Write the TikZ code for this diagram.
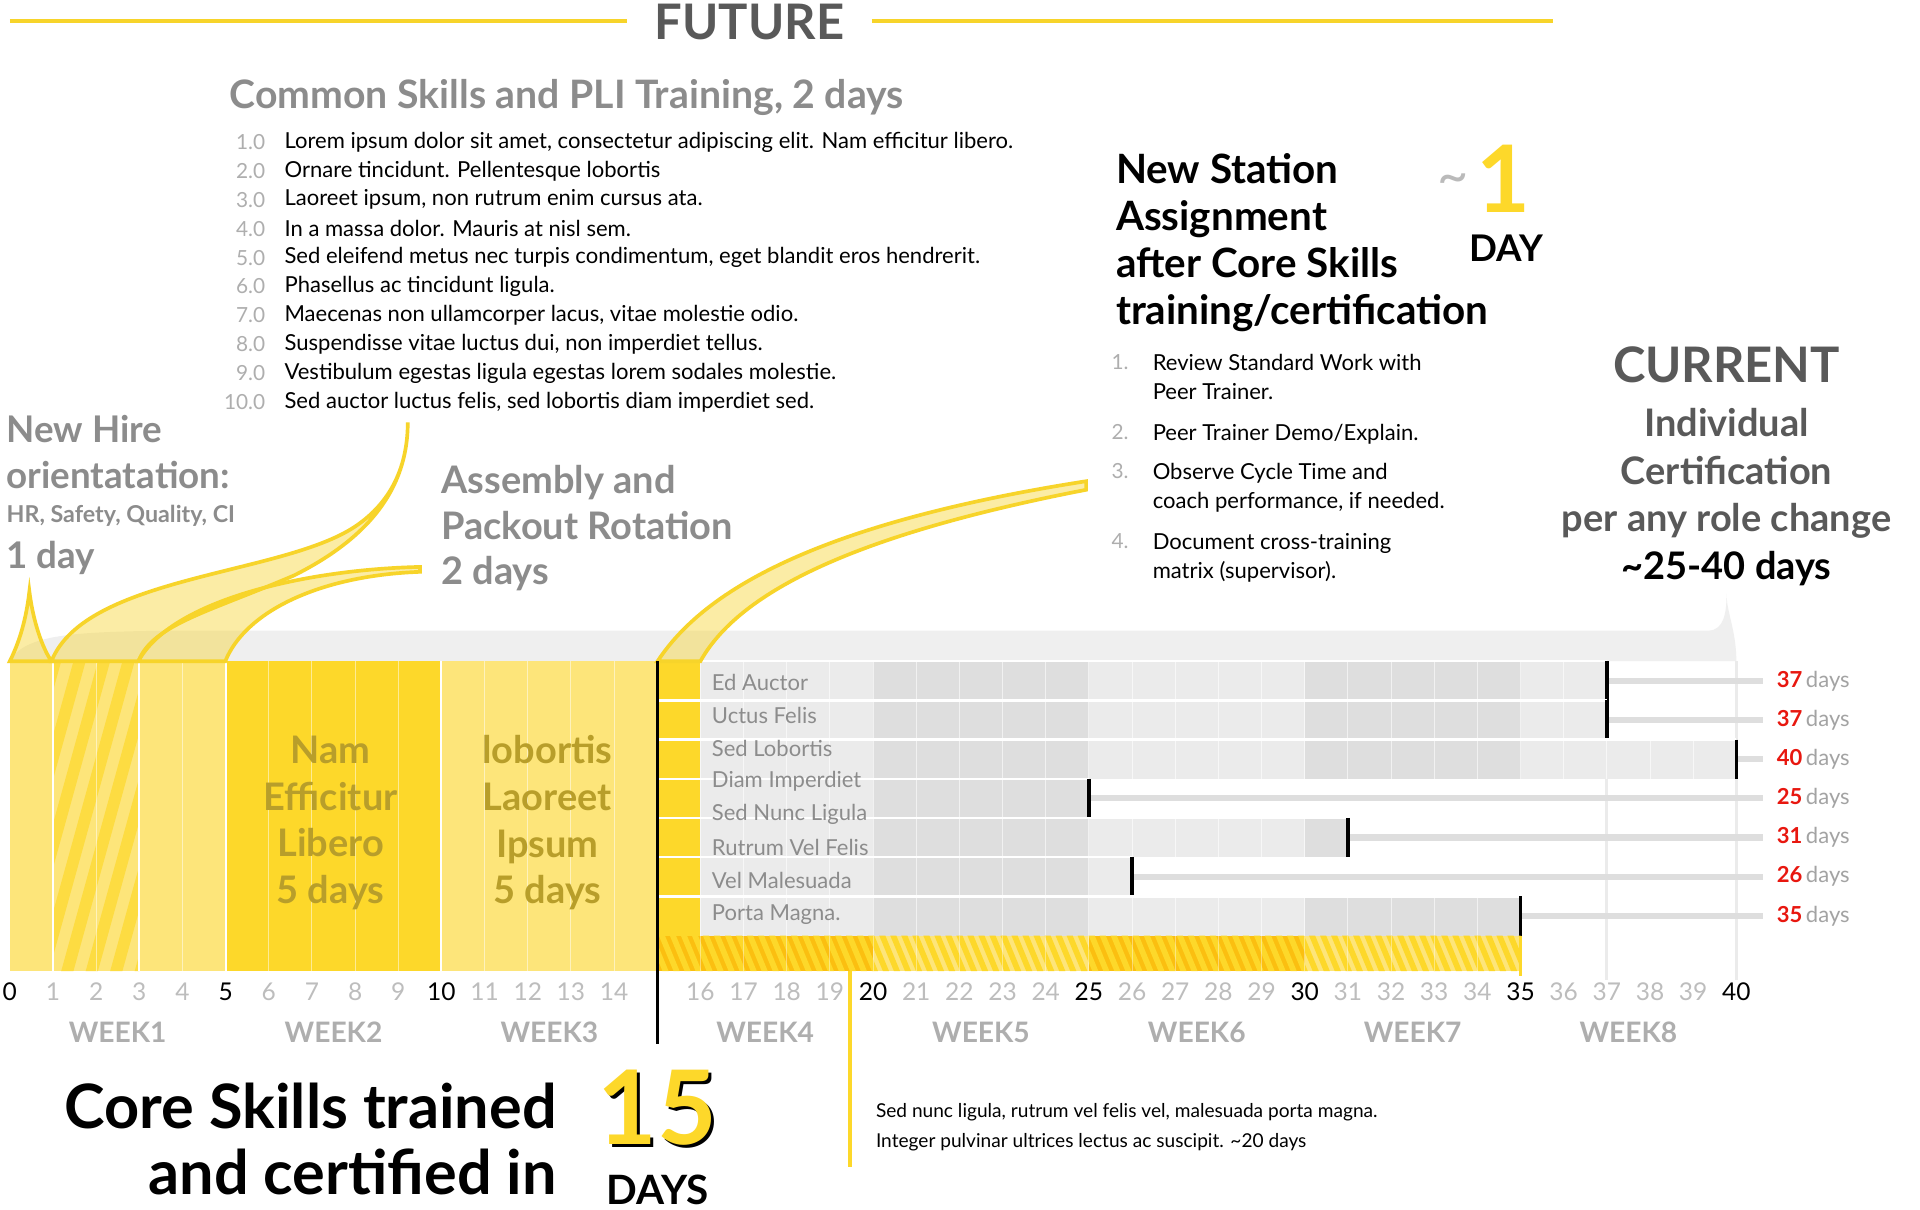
\documentclass[tikz,border=0pt]{standalone}
\usepackage{fontspec}
\setmainfont{Lato}
\definecolor{ly}{HTML}{FDE57A}
\definecolor{gy}{HTML}{FDD82A}
\definecolor{oy}{HTML}{FBBF10}
\definecolor{yl}{HTML}{F7D42A}
\definecolor{tg}{HTML}{8C8C8C}
\definecolor{dg}{HTML}{595959}
\definecolor{lg}{HTML}{EBEBEB}
\definecolor{mg}{HTML}{DEDEDE}
\definecolor{rd}{HTML}{E8170F}
\definecolor{ol}{HTML}{B89E2A}
\begin{document}
\begin{tikzpicture}[x=0.5pt,y=-0.5pt,
  head/.style={font=\bfseries\fontsize{15}{18}\selectfont,text=tg,inner sep=0,anchor=west},
  li/.style={font=\fontsize{8.5}{10}\selectfont,inner sep=0,anchor=west},
  ln/.style={font=\fontsize{8.5}{10}\selectfont,text=tg!70,inner sep=0,anchor=east},
  ax/.style={font=\fontsize{10}{12}\selectfont,inner sep=0},
  wk/.style={font=\bfseries\fontsize{11.5}{13}\selectfont,text=tg!70,inner sep=0},
  rib/.style={fill=yl,fill opacity=.42,draw=yl,line width=1.5pt},
  rl/.style={font=\fontsize{8.5}{10}\selectfont,text=tg,inner sep=0,anchor=west},
  big/.style={font=\bfseries\fontsize{15.5}{19}\selectfont,text=ol,align=center,inner sep=0}]
\useasboundingbox (0,0) rectangle (1568,988);
\fill[white] (0,0) rectangle (1568,988);
% top
\node[font=\bfseries\fontsize{20}{22}\selectfont,text=dg,inner sep=0] (fut) at (612,18) {FUTURE};
\coordinate (fl) at (512,17); \coordinate (fr) at (712,17);
\draw[yl,line width=1.5pt] (8,17) -- (fl) (fr) -- (1268,17);
\node[head,font=\bfseries\fontsize{16}{18}\selectfont] (cs) at (187,80) {Common Skills and PLI Training, 2 days};
\foreach \n/\t [count=\i from 0] in {1.0/Lorem ipsum dolor sit amet{,} consectetur adipiscing elit. Nam efficitur libero.,
 2.0/Ornare tincidunt. Pellentesque lobortis,
 3.0/Laoreet ipsum{,} non rutrum enim cursus ata.,
 4.0/In a massa dolor. Mauris at nisl sem.,
 5.0/Sed eleifend metus nec turpis condimentum{,} eget blandit eros hendrerit.,
 6.0/Phasellus ac tincidunt ligula.,
 7.0/Maecenas non ullamcorper lacus{,} vitae molestie odio.,
 8.0/Suspendisse vitae luctus dui{,} non imperdiet tellus.,
 9.0/Vestibulum egestas ligula egestas lorem sodales molestie.,
 10.0/Sed auctor luctus felis{,} sed lobortis diam imperdiet sed.}
 {\node[ln] (n\i) at (217,116+23.6*\i) {\n}; \node[li,font=\fontsize{9}{10}\selectfont] (t\i) at (232,116+23.6*\i) {\t};}
% new station
\node[font=\bfseries\fontsize{16.5}{19.2}\selectfont,align=left,anchor=north west,inner sep=0] (ns) at (911,125) {New Station\\Assignment\\after Core Skills\\training/certification};
\node[font=\fontsize{22}{22}\selectfont,text=tg!60,inner sep=0] (tl) at (1187,150) {\char126};
\node[font=\bfseries\fontsize{38}{38}\selectfont,text=gy,inner sep=0] (one) at (1228,146) {1};
\node[font=\bfseries\fontsize{15}{16}\selectfont,inner sep=0] (day) at (1230,203) {DAY};
\foreach \n/\y/\t in {1./301/Review Standard Work with\\Peer Trainer.,2./358/{Peer Trainer Demo/Explain.},3./390/Observe Cycle Time and\\coach performance{,} if needed.,4./447/Document cross-training\\matrix (supervisor).}
 {\node[ln,anchor=north east,yshift=6pt] (s\n) at (922,\y) {\n}; \node[li,anchor=north west,align=left,yshift=6pt,font=\fontsize{9}{12}\selectfont] (st\n) at (941,\y) {\t};}
% current
\node[font=\bfseries\fontsize{20}{22}\selectfont,text=dg,inner sep=0] (cur) at (1410,298) {CURRENT};
\node[font=\bfseries\fontsize{15.5}{19.5}\selectfont,text=dg,align=center,anchor=north,inner sep=0] (ind) at (1410,333) {Individual\\Certification\\per any role change};
\node[font=\bfseries\fontsize{15.5}{18}\selectfont,inner sep=0] (rng) at (1410,464) {{\char126}25-40 days};
% new hire
\node[head,font=\bfseries\fontsize{15}{18.5}\selectfont,align=left,anchor=north west] (nh) at (5,339) {New Hire\\orientatation:};
\node[head,font=\bfseries\fontsize{9.5}{11}\selectfont] (hr) at (5,421) {HR, Safety, Quality, CI};
\node[head] (od) at (5,456) {1 day};
\node[head,font=\bfseries\fontsize{15.5}{18.5}\selectfont,align=left,anchor=north west] (ap) at (360,380) {Assembly and\\Packout Rotation\\2 days};
% grey brace band
\fill[lg!80] (8,540) .. controls (20,518) and (60,516) .. (140,515) -- (1395,515) .. controls (1408,515) and (1410,500) .. (1410,485) .. controls (1410,500) and (1418,515) .. (1418,540) -- cycle;
% chart base
\fill[ly] (8,540) rectangle (537,793);
\fill[gy] (184,540) rectangle (360.5,793);
\begin{scope}
\clip (43.25,540) rectangle (113.75,793);
\foreach \k in {-8,...,10} \fill[gy!70!ly] ({30+\k*20},793) -- ({40+\k*20},793) -- ({110+\k*20},540) -- ({100+\k*20},540) -- cycle;
\end{scope}
\foreach \d in {1,...,14} \draw[white,opacity=.5,line width=.4pt] ({8+35.25*\d},540) -- ({8+35.25*\d},793);
\foreach \d in {1,3,5,10} \draw[white,line width=.8pt] ({8+35.25*\d},540) -- ({8+35.25*\d},793);
\node[big] (nam) at (270,672) {Nam\\Efficitur\\Libero\\5 days};
\node[big] (lob) at (447,672) {lobortis\\Laoreet\\Ipsum\\5 days};
% faint vertical lines
\draw[lg,line width=1.2pt] ({8+35.25*37},540) -- ({8+35.25*37},800) ({8+35.25*40},540) -- ({8+35.25*40},800);
% rows
\foreach \e [count=\r from 0] in {37,37,40,25,31,26,35} {
  \pgfmathsetmacro\yt{540+32*\r}
  \pgfmathsetmacro\ym{\yt+16}
  \fill[gy] (537,\yt) rectangle (572,\yt+32);
  \fill[lg] (572,\yt) rectangle ({8+35.25*\e},\yt+32);
  \fill[mg] (713,\yt) rectangle ({8+35.25*min(\e,25)},\yt+32);
  \ifnum\e>30 \fill[mg] (1065.5,\yt) rectangle ({8+35.25*min(\e,35)},\yt+32); \fi
  \foreach \d in {17,...,\e} \draw[white,opacity=.6,line width=.4pt] ({8+35.25*(\d-1)},\yt) -- ({8+35.25*(\d-1)},\yt+32);
  \draw[white,line width=1pt] (537,\yt) -- ({8+35.25*\e},\yt);
  \draw[mg,line width=2.5pt] ({8+35.25*\e},\ym) -- (1440,\ym);
  \draw[black,line width=1.5pt] ({8+35.25*\e},\yt) -- ({8+35.25*\e},\yt+32);
  \node[inner sep=0,anchor=east,font=\fontsize{9}{10}\selectfont] (dl\r) at (1511,\ym) {\textbf{\color{rd}\e}\,\color{tg!80}days};
}
\foreach \t/\y [count=\i] in {Ed Auctor/557,Uctus Felis/584,Sed Lobortis/611,Diam Imperdiet/638,Sed Nunc Ligula/665,Rutrum Vel Felis/692,Vel Malesuada/719,Porta Magna./747}
  \node[rl,font=\fontsize{9}{10}\selectfont] (r\i) at (581,\y) {\t};
% bottom hatched strip
\begin{scope}
\clip (537,764) rectangle (1241.75,793);
\fill[oy] (537,764) rectangle (713,793);
\fill[ly] (713,764) rectangle (889,793);
\fill[oy] (889,764) rectangle (1065.5,793);
\fill[ly] (1065.5,764) rectangle (1241.75,793);
\foreach \k in {0,...,80} \fill[gy] ({520+\k*9},764) -- ({525+\k*9},764) -- ({537+\k*9},793) -- ({532+\k*9},793) -- cycle;
\end{scope}
\foreach \d in {16,...,34} \draw[white,opacity=.4,line width=.4pt] ({8+35.25*\d},764) -- ({8+35.25*\d},793);
\draw[gy,line width=1.2pt] (1241.75,764) -- (1241.75,797);
% ribbons
\draw[rib] (8,540) .. controls (18,520) and (22,500) .. (24,483) .. controls (26,500) and (32,525) .. (42,540) -- cycle;
\draw[rib] (42,540) .. controls (70,470) and (230,470) .. (290,430) .. controls (320,410) and (333,380) .. (333,345) .. controls (333,400) and (300,440) .. (240,470) .. controls (170,500) and (125,510) .. (113,540) -- cycle;
\draw[rib] (113,540) .. controls (140,490) and (250,465) .. (343,463) -- (343,467) .. controls (260,470) and (200,500) .. (184,540) -- cycle;
\draw[rib] (537,540) .. controls (570,490) and (650,430) .. (887,393) -- (887,400) .. controls (680,440) and (600,490) .. (572,540) -- cycle;
% lines
\draw[black,line width=1.5pt] (537,540) coordinate (b1) -- (537,853) coordinate (b2);
\draw[gy,line width=1.5pt] (694,793) coordinate (y1) -- (694,953) coordinate (y2);
% axis
\foreach \d in {0,...,40} {
  \ifnum\d=15 \else
  \pgfmathtruncatemacro\m{mod(\d,5)}
  \ifnum\m=0 \node[ax] (a\d) at ({8+35.25*\d},810) {\d}; \else \node[ax,text=mg!85!black] (a\d) at ({8+35.25*\d},810) {\d}; \fi
  \fi}
\foreach \w in {1,...,8} \node[wk] (w\w) at ({8+35.25*(5*\w-2.5)},843) {WEEK\w};
% bottom
\node[font=\bfseries\fontsize{25}{27}\selectfont,align=right,anchor=north east,inner sep=0] (core) at (455,884) {Core Skills trained\\and certified in};
\node[font=\bfseries\fontsize{42}{42}\selectfont,text=black,inner sep=0] (fts) at (539,907) {15};
\node[font=\bfseries\fontsize{42}{42}\selectfont,text=gy,inner sep=0] (ft) at (537,905) {15};
\node[font=\bfseries\fontsize{16.5}{18}\selectfont,inner sep=0] (dys) at (537,972) {DAYS};
\node[li,font=\fontsize{7.8}{12}\selectfont,anchor=north west,align=left] (bt) at (715,901) {Sed nunc ligula, rutrum vel felis vel, malesuada porta magna.\\Integer pulvinar ultrices lectus ac suscipit. {\char126}20 days};
\end{tikzpicture}
\end{document}
